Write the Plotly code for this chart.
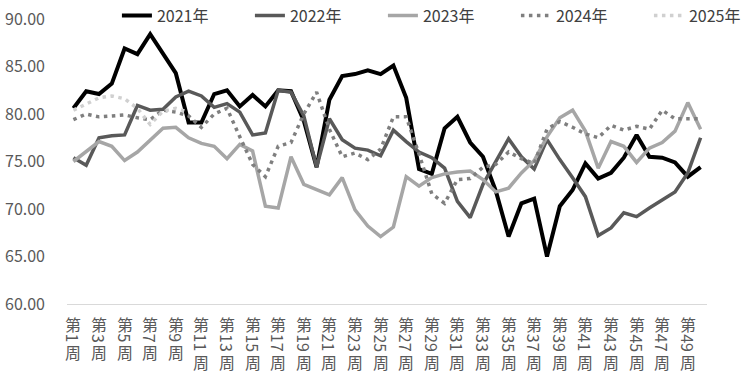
import plotly.graph_objects as go

weeks = [f"第{i}周" for i in range(1, 51)]
tick_weeks = weeks[0::2]  # 第1周, 第3周, ... 第49周

series_names = ["2021年", "2022年", "2023年", "2024年", "2025年"]

y2021 = [80.6, 82.4, 82.1, 83.2, 86.9, 86.3, 88.4, 86.4, 84.3, 79.1,
         79.1, 82.1, 82.5, 80.8, 82.0, 80.8, 82.5, 82.4, 79.3, 74.4,
         81.5, 84.0, 84.2, 84.6, 84.2, 85.1, 81.7, 74.2, 73.7, 78.5,
         79.7, 77.0, 75.5, 71.9, 67.1, 70.6, 71.1, 65.0, 70.3, 72.0,
         74.8, 73.2, 73.8, 75.4, 77.8, 75.5, 75.4, 74.9, 73.4, 74.4]
y2022 = [75.4, 74.6, 77.5, 77.7, 77.8, 80.9, 80.4, 80.5, 81.8, 82.4,
         81.9, 80.7, 81.1, 80.2, 77.8, 78.0, 82.5, 82.3, 79.8, 74.4,
         79.5, 77.3, 76.4, 76.2, 75.6, 78.3, 77.1, 76.0, 75.4, 74.3,
         70.8, 69.1, 72.6, 75.0, 77.4, 75.5, 74.2, 77.3, 75.2, 73.3,
         71.3, 67.2, 68.0, 69.6, 69.2, 70.1, 71.0, 71.8, 73.8, 77.5]
y2023 = [75.0, 76.1, 77.1, 76.6, 75.1, 76.0, 77.3, 78.5, 78.6, 77.5,
         76.9, 76.6, 75.3, 76.8, 76.1, 70.3, 70.1, 75.5, 72.6, 72.0,
         71.5, 73.3, 69.9, 68.2, 67.1, 68.1, 73.4, 72.4, 73.3, 73.7,
         73.9, 74.0, 73.1, 71.8, 72.2, 73.8, 75.1, 77.6, 79.6, 80.4,
         78.2, 74.3, 77.1, 76.6, 74.9, 76.4, 77.0, 78.2, 81.2, 78.4]
y2024 = [79.4, 80.0, 79.7, 79.8, 79.9, 79.6, 79.4, 80.4, 80.2, 79.8,
         78.6, 80.0, 80.6, 77.6, 74.7, 73.4, 76.6, 77.0, 80.0, 82.3,
         78.4, 75.5, 75.9, 75.2, 76.3, 79.7, 79.7, 75.8, 71.6, 70.6,
         73.1, 73.2, 74.4, 74.7, 76.0, 75.3, 74.8, 78.4, 79.2, 78.6,
         77.9, 77.5, 78.8, 78.3, 78.7, 78.4, 80.4, 79.5, 79.5, 79.5]
y2025 = [80.4, 81.0, 81.7, 81.9, 81.6, 80.6, 78.9, 80.3, 80.6, 80.2]

series_values = [y2021, y2022, y2023, y2024, y2025]
colors = ["#000000", "#595959", "#a6a6a6", "#7f7f7f", "#d0d0d0"]
widths = [4, 3.5, 3.5, 3.5, 3.5]
dashes = ["solid", "solid", "solid", "3.5px,4.5px", "3.5px,4.5px"]
legend_widths = [88, 88, 88, 88, 56]

FONT = "Noto Sans CJK SC, Noto Sans, sans-serif"

fig = go.Figure()
for name, vals, c, w, d, lw in zip(series_names, series_values, colors, widths, dashes, legend_widths):
    fig.add_trace(go.Scatter(
        x=weeks[:len(vals)], y=vals, name=name, mode="lines",
        line=dict(color=c, width=w, dash=d), legendwidth=lw,
    ))

annotations = []
for lab in tick_weeks:
    num = lab[1:-1]
    n = len(num)
    common = dict(x=lab, xref="x", y=0, yref="paper", showarrow=False,
                  xanchor="center", yanchor="middle",
                  font=dict(family=FONT, size=16, color="#595959"))
    annotations.append(dict(text="第", yshift=-20, **common))
    annotations.append(dict(text=num, textangle=90, yshift=-(29 + n * 5), **common))
    annotations.append(dict(text="周", yshift=-(37.5 + n * 10), **common))

fig.update_layout(
    width=752, height=375,
    margin=dict(l=67, r=45, t=19, b=71, autoexpand=False),
    paper_bgcolor="white", plot_bgcolor="white",
    font=dict(family=FONT, size=16, color="#595959"),
    showlegend=True,
    legend=dict(orientation="h", x=0.078, xanchor="left", y=1.012, yanchor="middle",
                entrywidthmode="pixels",
                font=dict(family=FONT, size=16, color="#404040"),
                bgcolor="rgba(0,0,0,0)", itemclick=False),
    xaxis=dict(type="category", categoryorder="array", categoryarray=weeks,
               range=[-0.5, 49.5], showticklabels=False, ticks="",
               showgrid=False, zeroline=False, showline=True,
               linecolor="#d9d9d9", linewidth=1),
    yaxis=dict(range=[60, 90], dtick=5, tick0=60, tickformat=".2f",
               showgrid=False, zeroline=False, showline=False, ticks="",
               ticklabelstandoff=21,
               tickfont=dict(family=FONT, size=16, color="#595959")),
    annotations=annotations,
)

fig.write_html("out.html",
               config={"displayModeBar": False},
               post_script="document.body.style.margin='0';document.body.style.overflow='hidden';")
